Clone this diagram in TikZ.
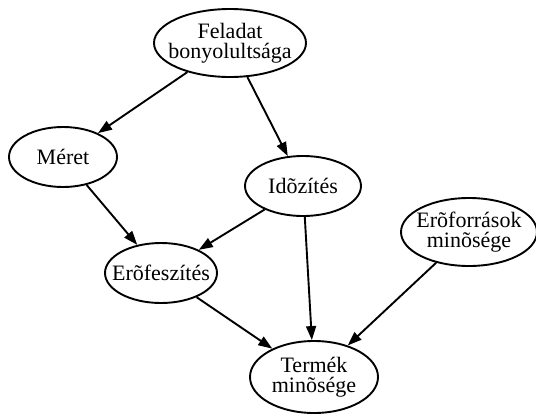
\documentclass[tikz,border=0pt]{standalone}
\usepackage{fontspec}
\setmainfont{Liberation Serif}
\usetikzlibrary{shapes.geometric,arrows.meta}
\tikzset{
  factor/.style={draw, ellipse, line width=1.9pt, inner sep=-20pt, align=center,
    font=\fontsize{22}{20}\selectfont},
}
\begin{document}
\begin{tikzpicture}[x=1pt, y=-1pt, >={Triangle[length=14pt, width=10pt]}, line width=1.9pt]
\useasboundingbox (0,0) rectangle (536,416);

\node[factor, minimum width=152pt, minimum height=68pt](bony) at (230,43){Feladat\\bonyolultsága};
\node[factor, minimum width=108pt, minimum height=60pt](meret) at (63,157){Méret};
\node[factor, minimum width=116pt, minimum height=60pt](ido) at (303,186){Idõzítés};
\node[factor, minimum width=136pt, minimum height=68pt](forras) at (469,232){Erõforrások\\minõsége};
\node[factor, minimum width=112pt, minimum height=60pt](fesz) at (161,273){Erõfeszítés};
\node[factor, minimum width=128pt, minimum height=72pt](termek) at (314,377){Termék\\minõsége};

\draw[->](bony)--(meret);
\draw[->](bony)--(ido);
\draw[->](meret)--(fesz);
\draw[->](ido)--(fesz);
\draw[->](ido)--(termek);
\draw[->](fesz)--(termek);
\draw[->](forras)--(termek);
\end{tikzpicture}
\end{document}
